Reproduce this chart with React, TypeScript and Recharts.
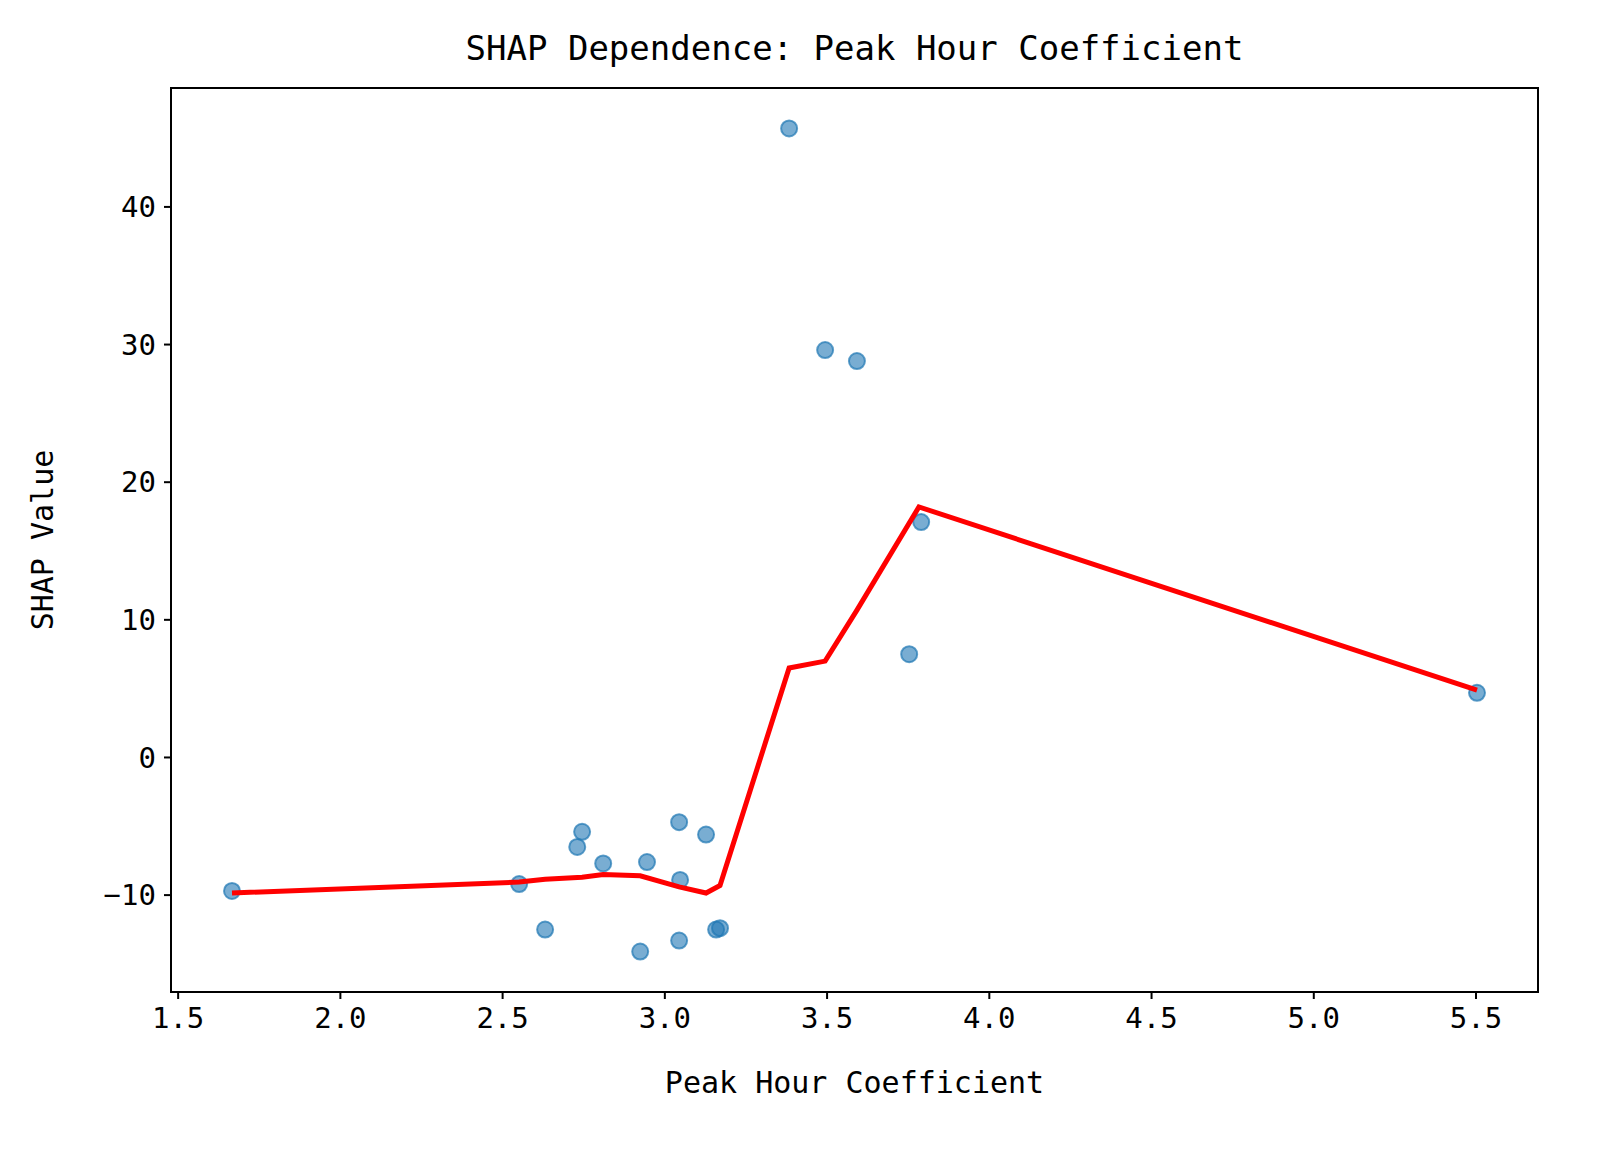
import { ComposedChart, Scatter, XAxis, YAxis } from "recharts";

const pointX = [1.666, 2.551, 2.631, 2.73, 2.745, 2.81, 2.924, 2.945, 3.044, 3.047, 3.044, 3.127, 3.158, 3.17, 3.383, 3.494, 3.592, 3.753, 3.79, 5.503];
const pointY = [-9.7, -9.2, -12.5, -6.5, -5.4, -7.7, -14.1, -7.6, -4.7, -8.9, -13.3, -5.6, -12.5, -12.4, 45.7, 29.6, 28.8, 7.5, 17.1, 4.7];
const lineX = [1.666, 2.551, 2.631, 2.745, 2.81, 2.924, 3.044, 3.127, 3.17, 3.383, 3.494, 3.592, 3.783, 5.503];
const lineY = [-9.85, -9.05, -8.85, -8.7, -8.5, -8.6, -9.4, -9.85, -9.3, 6.5, 7.0, 10.7, 18.2, 4.9];
const xTicks = [1.5, 2.0, 2.5, 3.0, 3.5, 4.0, 4.5, 5.0, 5.5];
const yTicks = [-10, 0, 10, 20, 30, 40];

const points = pointX.map((x, i) => ({ x, y: pointY[i] }));
const curve = lineX.map((x, i) => ({ x, y: lineY[i] }));

const font = "'DejaVu Sans Mono', monospace";
const tickStyle = { fontSize: 29, fill: "#000", fontFamily: font };

export default function App() {
  return (
    <div style={{ position: "relative", width: 1582, height: 1150 }}>
      <div style={{ position: "absolute", left: 163, width: 1367, top: 20, textAlign: "center", fontFamily: font, fontSize: 34 }}>
        SHAP Dependence: Peak Hour Coefficient
      </div>
      <div style={{ position: "absolute", left: 162, top: 79, width: 1369, height: 906, border: "2px solid #000", boxSizing: "border-box", pointerEvents: "none" }} />
      <ComposedChart width={1582} height={1150} margin={{ top: 80, right: 52, bottom: 0, left: 0 }}>
        <XAxis dataKey="x" type="number" domain={[1.478, 5.691]} ticks={xTicks}
          tickFormatter={(v: number) => v.toFixed(1)} allowDataOverflow height={166}
          stroke="#000" strokeWidth={2} tickSize={7} tick={tickStyle} tickMargin={8}
          label={{ value: "Peak Hour Coefficient", position: "insideTop", offset: 80, style: { fontSize: 30, fill: "#000", fontFamily: font } }} />
        <YAxis dataKey="y" type="number" domain={[-17.04, 48.64]} ticks={yTicks} allowDataOverflow width={163}
          tickFormatter={(v: number) => String(v).replace("-", "\u2212")}
          stroke="#000" strokeWidth={2} tickSize={7} tick={tickStyle} tickMargin={8}
          label={{ value: "SHAP Value", angle: -90, position: "insideLeft", offset: 34, style: { fontSize: 30, fill: "#000", fontFamily: font, textAnchor: "middle" } }} />
        <Scatter data={points} fill="#1f77b4" isAnimationActive={false}
          shape={(p: any) => <circle cx={p.cx} cy={p.cy} r={8} fill="#1f77b4" fillOpacity={0.6} stroke="#1f77b4" strokeOpacity={0.7} strokeWidth={2} />} />
        <Scatter data={curve} line={{ stroke: "#ff0000", strokeWidth: 5 }} shape={() => <g />} isAnimationActive={false} />
      </ComposedChart>
    </div>
  );
}
